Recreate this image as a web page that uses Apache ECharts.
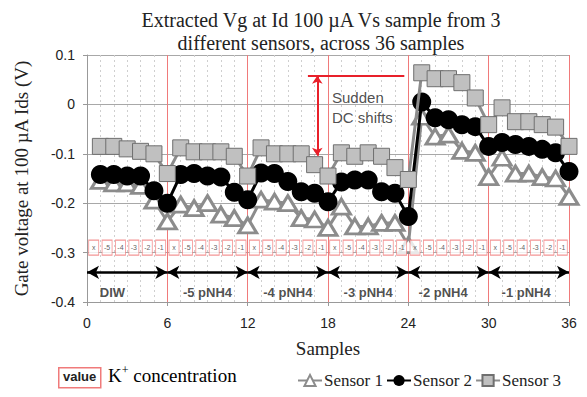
<!DOCTYPE html>
<html><head><meta charset="utf-8">
<script src="https://cdn.jsdelivr.net/npm/echarts@6/dist/echarts.min.js"></script>
<style>html,body{margin:0;padding:0;background:#fff}#c{width:587px;height:397px}</style>
</head><body><div id="c"></div>
<script>
// ---- data ----
var samples = [1,2,3,4,5,6,7,8,9,10,11,12,13,14,15,16,17,18,19,20,21,22,23,24,25,26,27,28,29,30,31,32,33,34,35,36];
var sensor1 = [-0.155,-0.160,-0.160,-0.165,-0.195,-0.237, -0.203,-0.210,-0.200,-0.223,-0.230,-0.245, -0.193,-0.197,-0.200,-0.230,-0.233,-0.250, -0.207,-0.247,-0.247,-0.240,-0.240,-0.285, -0.025,-0.065,-0.061,-0.094,-0.098,-0.147, -0.108,-0.140,-0.140,-0.147,-0.150,-0.187];
var sensor2 = [-0.142,-0.142,-0.145,-0.145,-0.175,-0.200, -0.142,-0.140,-0.145,-0.147,-0.178,-0.193, -0.139,-0.140,-0.156,-0.177,-0.180,-0.197, -0.157,-0.153,-0.153,-0.177,-0.180,-0.227, 0.005,-0.027,-0.031,-0.041,-0.045,-0.085, -0.077,-0.081,-0.085,-0.091,-0.098,-0.136];
var sensor3 = [-0.085,-0.085,-0.090,-0.095,-0.100,-0.140, -0.088,-0.096,-0.096,-0.096,-0.105,-0.145, -0.088,-0.100,-0.100,-0.100,-0.122,-0.145, -0.098,-0.105,-0.098,-0.105,-0.128,-0.152, 0.064,0.052,0.052,0.044,0.013,-0.041, -0.007,-0.035,-0.035,-0.041,-0.046,-0.085];
var boxX = [0.5,1.5,2.5,3.5,4.5,5.5,6.5,7.5,8.5,9.5,10.5,11.5,12.5,13.5,14.5,15.5,16.5,17.5,18.5,19.5,20.5,21.5,22.5,23.5,24.5,25.5,26.5,27.5,28.5,29.5,30.5,31.5,32.5,33.5,34.5,35.5];
var boxLabels = ['x','-5','-4','-3','-2','-1','x','-5','-4','-3','-2','-1','x','-5','-4','-3','-2','-1','x','-5','-4','-3','-2','-1','x','-5','-4','-3','-2','-1','x','-5','-4','-3','-2','-1'];
var boxLevel = -0.29;
var segStart = [0,6,12,18,24,30];
var segEnd = [6,12,18,24,30,36];
var segNames = ['DIW','-5 pNH4','-4 pNH4','-3 pNH4','-2 pNH4','-1 pNH4'];
var segLabelX = [1.9,9,15,21,26.6,32.8];
var arrowLevel = -0.34;
var segLabelLevel = -0.38;
var xTicks = [0,6,12,18,24,30,36];
var yTicks = [-0.4,-0.3,-0.2,-0.1,0,0.1];

var titleText = 'Extracted Vg at Id 100 \u00b5A Vs sample from 3\ndifferent sensors, across 36 samples';
var yName = 'Gate voltage at 100 \u00b5A Ids (V)';
var xName = 'Samples';

function zip(xs, ys){ return xs.map(function(x,i){ return [x, ys[i]]; }); }

var serif = '"Liberation Serif", "Times New Roman", serif';
var sans = '"Liberation Sans", Arial, sans-serif';
var redLine = '#f07a7a';

var chart = echarts.init(document.getElementById('c'), null, {renderer:'svg'});
chart.setOption({
  animation:false,
  backgroundColor:'#fff',
  title:{ text:titleText, left:316, top:3, textAlign:'center',
    textStyle:{ fontFamily:serif, fontSize:20, fontWeight:'normal', color:'#222', lineHeight:23 } },
  grid:{ left:87, right:18, top:55, bottom:95, containLabel:false },
  xAxis:{ type:'value', min:0, max:36, interval:6,
    name:xName, nameLocation:'middle', nameGap:37,
    nameTextStyle:{ fontFamily:serif, fontSize:19, color:'#222' },
    axisLine:{ show:true, onZero:false, lineStyle:{ color:'#999', width:1 } },
    axisTick:{ show:true, length:4, lineStyle:{ color:'#999' } },
    axisLabel:{ fontFamily:sans, fontSize:14, color:'#222', margin:14,
      formatter:function(v){ return xTicks.indexOf(v)>=0 ? String(v) : ''; } },
    splitLine:{ show:true, lineStyle:{ color:redLine, width:1 } },
    minorTick:{ show:false, splitNumber:6 },
    minorSplitLine:{ show:true, lineStyle:{ color:'#cfcfcf', type:[2,3], width:1 } }
  },
  yAxis:{ type:'value', min:-0.4, max:0.1, interval:0.1,
    name:yName, nameLocation:'middle', nameGap:56,
    nameTextStyle:{ fontFamily:serif, fontSize:19, color:'#222' },
    axisLine:{ show:true, lineStyle:{ color:'#999', width:1 } },
    axisTick:{ show:true, length:4, lineStyle:{ color:'#999' } },
    axisLabel:{ fontFamily:sans, fontSize:14, color:'#222', margin:12,
      formatter:function(v){ var r = Math.round(v*10)/10; return r===0 ? '0' : r.toFixed(1); } },
    splitLine:{ show:true, lineStyle:{ color:'#a8a8a8', width:1 } }
  },
  legend:{ data:['Sensor 1','Sensor 2','Sensor 3'], left:292, top:367, itemGap:3, itemWidth:24, itemHeight:14,
    textStyle:{ fontFamily:serif, fontSize:17, color:'#222', padding:[0,0,0,-3] } },
  graphic:[
    { type:'rect', left:58, top:367, shape:{ width:42, height:20 }, style:{ fill:'#fff', stroke:'#f07a7a', lineWidth:1.5 } },
    { type:'text', left:63, top:370, style:{ text:'value', font:'bold 13px "Liberation Sans", Arial, sans-serif', fill:'#222' } },
    { type:'text', left:108, top:364, style:{ text:'{k|K}{s|+}{k| concentration}',
      rich:{ k:{ fontFamily:serif, fontSize:19, color:'#222', verticalAlign:'bottom' }, s:{ fontFamily:serif, fontSize:12, color:'#222', verticalAlign:'top', padding:[0,0,9,0] } } } }
  ],
  series:[
    { name:'arrows', type:'line', data:[], silent:true,
      markLine:{ silent:true, symbol:['arrow','arrow'], symbolSize:[10,12], label:{show:false},
        lineStyle:{ color:'#000', width:2.5, type:'solid' },
        data: segStart.map(function(s,i){ return [{coord:[s, arrowLevel]},{coord:[segEnd[i], arrowLevel]}]; }) } },
    { name:'segments', type:'scatter', silent:true, symbolSize:0, data: zip(segLabelX, segNames.map(function(){return segLabelLevel;})),
      label:{ show:true, position:'inside', fontFamily:sans, fontWeight:'bold', fontSize:13, color:'#222',
        formatter:function(p){ return segNames[p.dataIndex]; } } },
    { name:'Sensor 1', type:'line', data:zip(samples, sensor1), symbol:'triangle', symbolSize:[18,15],
      lineStyle:{ color:'#8c8c8c', width:3 }, itemStyle:{ color:'#fff', borderColor:'#8c8c8c', borderWidth:3 } , z:3 },
    { name:'Sensor 2', type:'line', data:zip(samples, sensor2), symbol:'circle', symbolSize:19,
      lineStyle:{ color:'#000', width:3 }, itemStyle:{ color:'#000', borderColor:'#000', borderWidth:0 }, z:4 },
    { name:'Sensor 3', type:'line', data:zip(samples, sensor3), symbol:'rect', symbolSize:16,
      lineStyle:{ color:'#8c8c8c', width:3 }, itemStyle:{ color:'#c0c0c0', borderColor:'#6f6f6f', borderWidth:1 }, z:5 },
    { name:'K+ concentration', type:'scatter', silent:true, data: zip(boxX, boxX.map(function(){return boxLevel;})),
      symbol:'rect', symbolSize:[10,15], itemStyle:{ color:'#fff', borderColor:'#f07a7a', borderWidth:1 }, z:6,
      label:{ show:true, position:'inside', fontFamily:sans, fontSize:7, color:'#333',
        formatter:function(p){ return boxLabels[p.dataIndex]; } } },
    { name:'shift', type:'line', data:[], silent:true, z:7,
      markLine:{ silent:true, label:{show:false}, lineStyle:{ color:'#e8202a', width:2, type:'solid' },
        data:[
          [{coord:[16.5,0.058], symbol:'none'},{coord:[23.7,0.058], symbol:'none'}],
          [{coord:[17.2,0.058], symbol:'arrow', symbolSize:8},{coord:[17.2,-0.104], symbol:'arrow', symbolSize:8}],
          [{coord:[16.9,-0.108], symbol:'none'},{coord:[17.6,-0.108], symbol:'none'}]
        ] } },
    { name:'shiftText', type:'scatter', silent:true, symbolSize:0, z:7,
      data:[[18.3, 0.013],[18.3,-0.027]],
      label:{ show:true, position:'right', distance:0, fontFamily:sans, fontSize:15, color:'#222',
        formatter:function(p){ return ['Sudden','DC shifts'][p.dataIndex]; } } }
  ]
});
</script></body></html>
